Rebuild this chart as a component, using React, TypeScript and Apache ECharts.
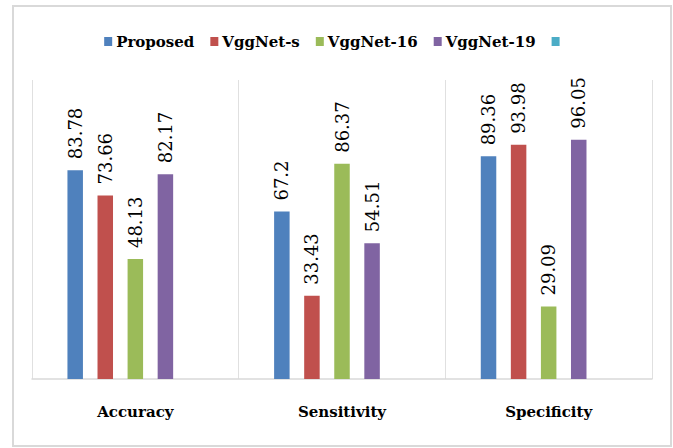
import React, { useEffect, useRef } from "react";
import * as echarts from "echarts";

const categories = ["Accuracy", "Sensitivity", "Specificity"];
const seriesNames = ["Proposed", "VggNet-s", "VggNet-16", "VggNet-19", " "];
const proposed = [83.78, 67.2, 89.36];
const vggNetS = [73.66, 33.43, 93.98];
const vggNet16 = [48.13, 86.37, 29.09];
const vggNet19 = [82.17, 54.51, 96.05];
const emptySeries: (number | null)[] = [null, null, null];
const colors = ["#4f81bd", "#c0504d", "#9bbb59", "#8064a2", "#4bacc6"];

export default function App() {
  const ref = useRef<HTMLDivElement>(null);
  useEffect(() => {
    if (!ref.current) return;
    const chart = echarts.init(ref.current, undefined, { renderer: "svg" });
    const font = "DejaVu Serif";
    const values = [proposed, vggNetS, vggNet16, vggNet19, emptySeries];
    chart.setOption({
      animation: false,
      backgroundColor: "#ffffff",
      color: colors,
      textStyle: { fontFamily: font },
      graphic: [
        {
          type: "rect",
          shape: { x: 13, y: 6, width: 658, height: 440 },
          style: { fill: "none", stroke: "#d9d9d9", lineWidth: 2 },
          silent: true,
        },
      ],
      legend: {
        data: seriesNames,
        top: 29,
        left: "center",
        itemWidth: 8,
        itemHeight: 9,
        itemGap: 16,
        icon: "rect",
        textStyle: { fontFamily: font, fontWeight: "bold", fontSize: 15, color: "#000", padding: [0, 0, 0, -1] },
      },
      grid: { left: 32, right: 21, top: 80, bottom: 69 },
      xAxis: {
        type: "category",
        data: categories,
        axisLine: { show: true, lineStyle: { color: "#d9d9d9", width: 1.5 } },
        axisTick: { show: false },
        splitLine: { show: true, interval: 0, lineStyle: { color: "#e0e0e0", width: 1 } },
        axisLabel: { fontFamily: font, fontWeight: "bold", fontSize: 15, color: "#000", margin: 25 },
      },
      yAxis: {
        type: "value",
        min: 0,
        max: 120,
        show: false,
        splitLine: { show: false },
      },
      series: seriesNames.map((name, i) => ({
        name,
        type: "bar",
        data: values[i],
        barWidth: 15.5,
        barGap: "94%",
        itemStyle: { color: colors[i] },
        label: {
          show: true,
          position: "top",
          rotate: 90,
          align: "left",
          verticalAlign: "middle",
          distance: 11,
          fontFamily: font,
          fontSize: 18,
          color: "#000",
        },
      })),
    });
    return () => chart.dispose();
  }, []);
  return (
    <div
      ref={ref}
      style={{ position: "fixed", left: 0, top: 0, width: 673, height: 448 }}
    />
  );
}
